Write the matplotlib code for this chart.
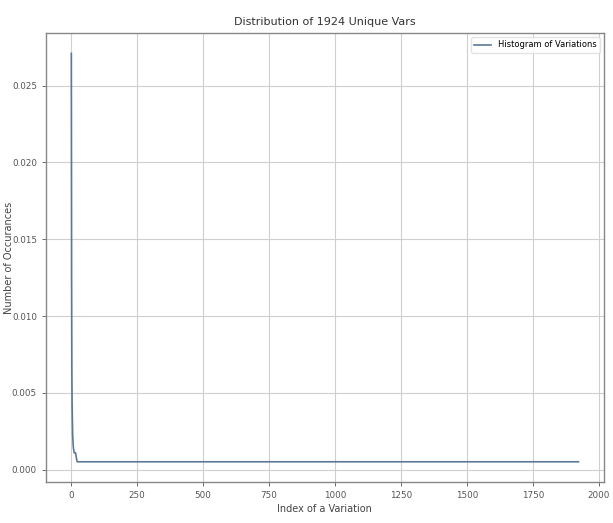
import numpy as np
import matplotlib
matplotlib.use("Agg")
import matplotlib.pyplot as plt

# Data
n_unique = 1924
head_values = [0.0271, 0.0125, 0.0065, 0.0042, 0.0030, 0.0023, 0.0019, 0.0016,
               0.0014, 0.0013, 0.0012, 0.0011, 0.0011, 0.0011, 0.0011, 0.0011,
               0.0011, 0.0010, 0.0009, 0.0008, 0.0007, 0.0006, 0.00055]
tail_value = 0.00052
values = np.array(head_values + [tail_value] * (n_unique - len(head_values)))
index = np.arange(n_unique)

title = "Distribution of 1924 Unique Vars"
xlabel = "Index of a Variation"
ylabel = "Number of Occurances"
legend_label = "Histogram of Variations"
xticks = [0, 250, 500, 750, 1000, 1250, 1500, 1750, 2000]
yticks = [0.000, 0.005, 0.010, 0.015, 0.020, 0.025]

fig = plt.figure(figsize=(6.13, 5.23), dpi=100)
ax = fig.add_axes([0.075, 0.078, 0.910, 0.859])
ax.plot(index, values, color="#5b7896", lw=1.2, label=legend_label)
ax.set_xticks(xticks)
ax.set_yticks(yticks)
ax.yaxis.set_major_formatter(matplotlib.ticker.FormatStrFormatter("%.3f"))
ax.tick_params(labelsize=6.3, colors="#555555", length=3, width=0.6)
ax.grid(True, color="#cfcfcf", lw=0.8)
for s in ax.spines.values():
    s.set_color("#888888")
    s.set_linewidth(1.0)
ax.set_title(title, fontsize=8, color="#333333", pad=6)
ax.set_xlabel(xlabel, fontsize=7, color="#444444", labelpad=3)
ax.set_ylabel(ylabel, fontsize=7, color="#444444")
ax.yaxis.set_label_coords(-0.058, 0.5)
leg = ax.legend(loc="upper right", fontsize=6, frameon=True)
leg.get_frame().set_edgecolor("#dddddd")
fig.savefig("out.png", dpi=100)
